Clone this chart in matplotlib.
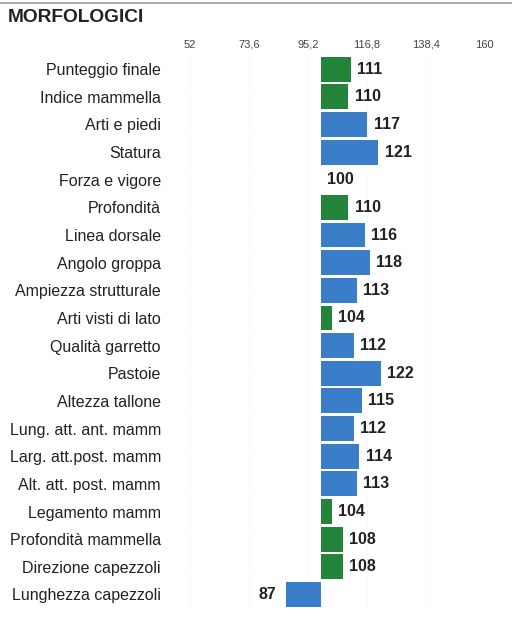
import matplotlib.pyplot as plt

plt.rcParams['font.family'] = ['Liberation Sans', 'DejaVu Sans']

# Data
traits = ["Punteggio finale", "Indice mammella", "Arti e piedi", "Statura",
          "Forza e vigore", "Profondità", "Linea dorsale", "Angolo groppa",
          "Ampiezza strutturale", "Arti visti di lato", "Qualità garretto",
          "Pastoie", "Altezza tallone", "Lung. att. ant. mamm",
          "Larg. att.post. mamm", "Alt. att. post. mamm", "Legamento mamm",
          "Profondità mammella", "Direzione capezzoli", "Lunghezza capezzoli"]
values = [111, 110, 117, 121, 100, 110, 116, 118, 113, 104, 112, 122, 115,
          112, 114, 113, 104, 108, 108, 87]
groups = ["g", "g", "b", "b", "b", "g", "b", "b", "b", "g", "b", "b", "b",
          "b", "b", "b", "g", "g", "g", "b"]
ticks = [52, 73.6, 95.2, 116.8, 138.4, 160]
tick_labels = ["52", "73,6", "95,2", "116,8", "138,4", "160"]
base = 100

colors = {"g": "#23843a", "b": "#3a7dc9"}

fig = plt.figure(figsize=(5.12, 6.43), dpi=100)
ax = fig.add_axes([0.371, 0.054, 0.576, 0.86])

ypos = list(range(len(traits)))
for y, v, g in zip(ypos, values, groups):
    ax.barh(y, v - base, left=base, height=0.9, color=colors[g])
    if v >= base:
        ax.text(v + 2.3, y, str(v), va="center", ha="left",
                fontsize=11.5, fontweight="bold", color="#222222")
    else:
        ax.text(v - 3.5, y, str(v), va="center", ha="right",
                fontsize=11.5, fontweight="bold", color="#222222")

ax.set_xlim(52, 160)
ax.set_ylim(len(traits) - 0.5, -0.5)
ax.set_xticks(ticks)
ax.set_xticklabels(tick_labels, fontsize=8, color="#444444")
ax.xaxis.tick_top()
ax.tick_params(axis="x", length=0, pad=4)
ax.set_yticks(ypos)
ax.set_yticklabels(traits, fontsize=11.5, color="#222222")
ax.tick_params(axis="y", length=0, pad=21)

ax.grid(axis="x", color="#ececec", linestyle=(0, (1, 3)), linewidth=0.8)
ax.set_axisbelow(True)
for s in ax.spines.values():
    s.set_visible(False)

fig.text(0.016, 0.973, "MORFOLOGICI", fontsize=13.8, fontweight="bold",
         color="#222222", va="center", ha="left")
fig.add_artist(plt.Line2D([0, 1], [0.995, 0.995], color="#999999", linewidth=1.2))

fig.savefig("out.png", dpi=100)
